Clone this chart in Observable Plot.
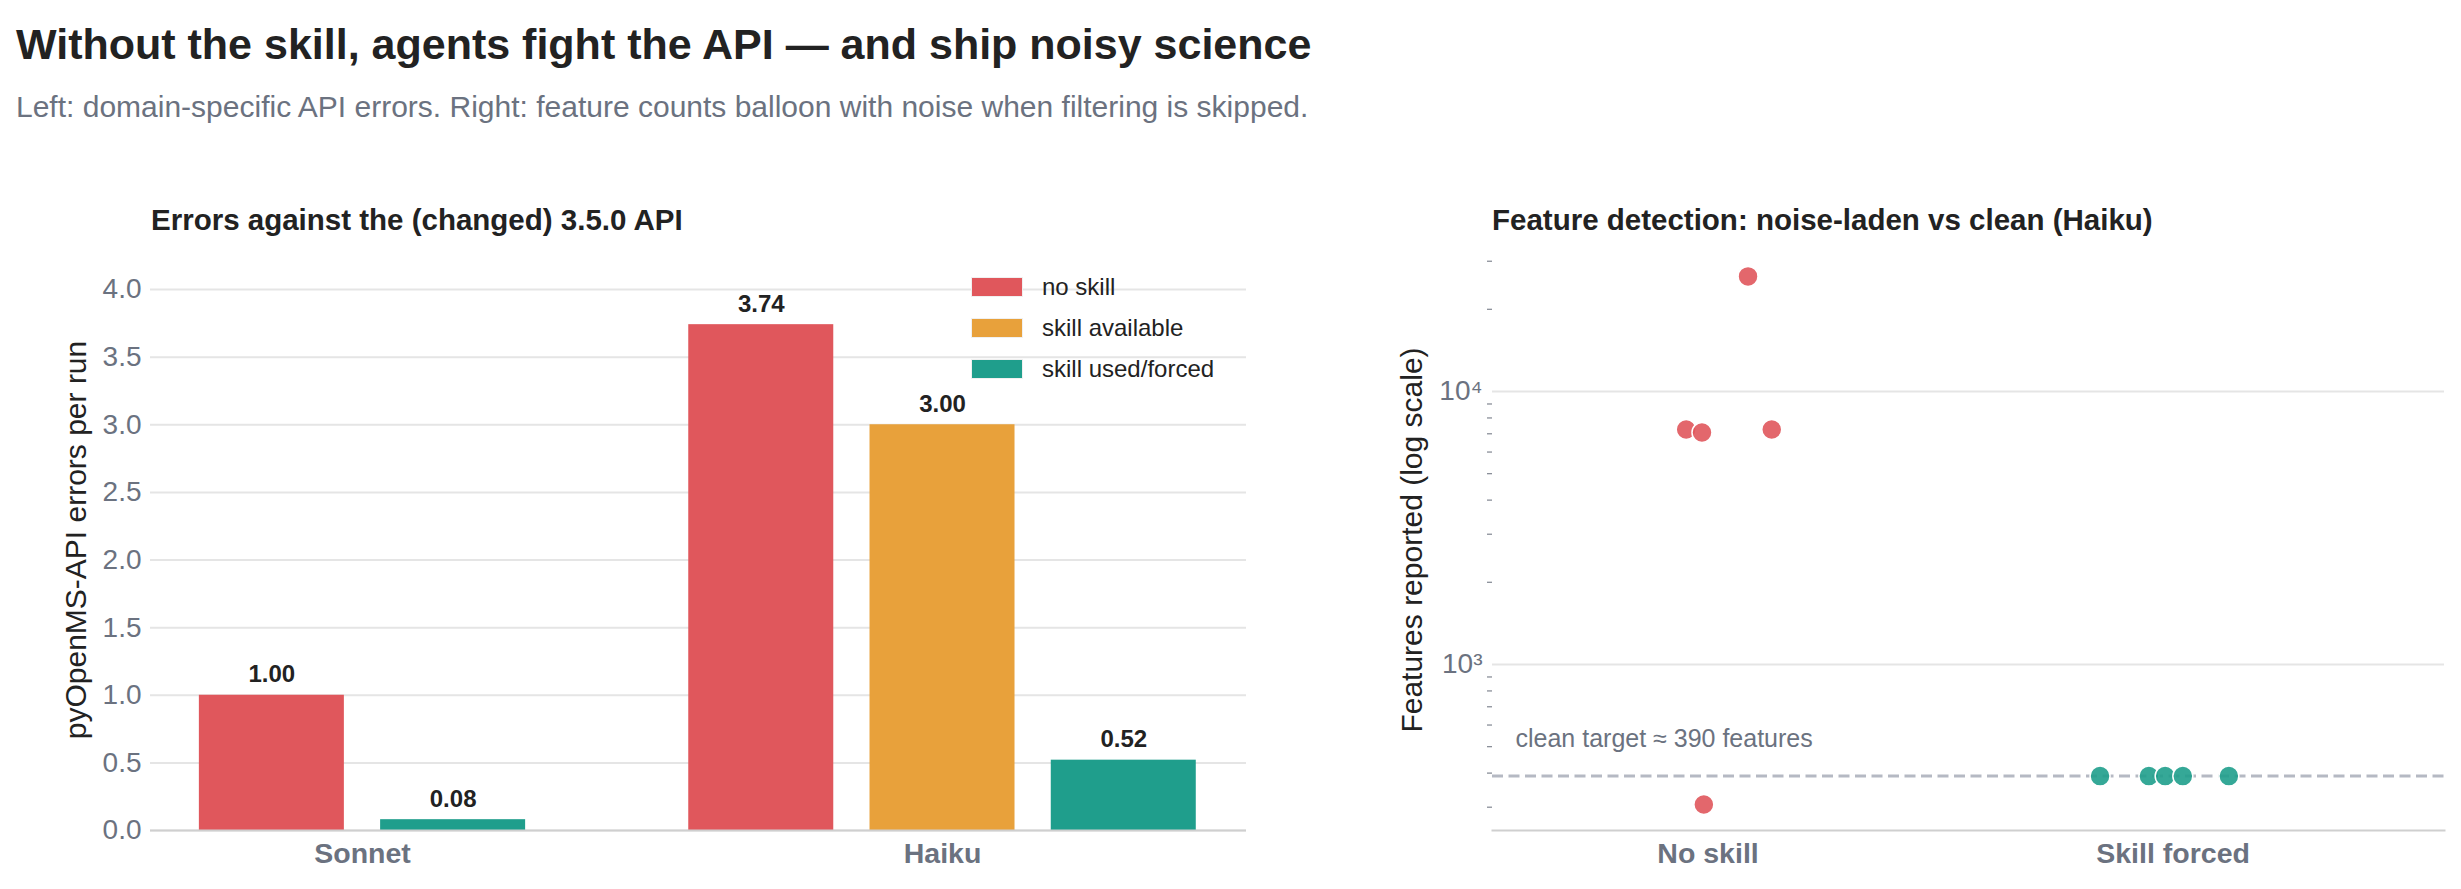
<!DOCTYPE html>
<html>
<head>
<meta charset="utf-8">
<script src="https://cdn.jsdelivr.net/npm/d3@7"></script>
<script src="https://cdn.jsdelivr.net/npm/@observablehq/plot@0.6"></script>
<style>
  html, body { margin: 0; padding: 0; background: #fff; }
  body { font-family: "Liberation Sans", Arial, Helvetica, sans-serif; }
  #page { position: relative; width: 2461px; height: 889px; overflow: hidden; }
  .abs { position: absolute; white-space: nowrap; }
  #title { left: 16px; top: 21px; font-size: 43px; line-height: 46px; font-weight: bold; color: #222; }
  #subtitle { left: 16px; top: 91px; font-size: 30px; line-height: 32px; color: #6b7280; }
  .ptitle { font-size: 29.5px; line-height: 32px; font-weight: bold; color: #222; top: 204px; }
  .ylab { font-size: 30px; color: #222; transform: translate(-50%, -50%) rotate(-90deg); line-height: 32px; }
  .leg { left: 971px; display: flex; align-items: center; font-size: 24px; color: #222; height: 20px; z-index: 5; }
  .sw { width: 50px; height: 18px; border: 1px solid #f0f0f0; margin-right: 19px; }
  .plot { position: absolute; top: 250px; }
</style>
</head>
<body>
<div id="page">
  <div id="title" class="abs">Without the skill, agents fight the API — and ship noisy science</div>
  <div id="subtitle" class="abs">Left: domain-specific API errors. Right: feature counts balloon with noise when filtering is skipped.</div>
  <div class="abs ptitle" style="left:151px">Errors against the (changed) 3.5.0 API</div>
  <div class="abs ptitle" style="left:1492px">Feature detection: noise-laden vs clean (Haiku)</div>
  <div class="abs ylab" style="left:76px; top:540px">pyOpenMS-API errors per run</div>
  <div class="abs ylab" style="left:1412px; top:540px">Features reported (log scale)</div>
  <div id="left" class="plot" style="left:0px"></div>
  <div id="right" class="plot" style="left:1340px"></div>
  <div id="legend"></div>
</div>
<script>
// ---------------- Data ----------------
const groups = ["Sonnet", "Haiku"];
const conditions = ["no skill", "skill available", "skill used/forced"];
const conditionColors = ["#e0575c", "#e8a13b", "#1f9e8c"];

const barGroup = ["Sonnet", "Sonnet", "Haiku", "Haiku", "Haiku"];
const barCondition = ["no skill", "skill used/forced", "no skill", "skill available", "skill used/forced"];
const barValue = [1.00, 0.08, 3.74, 3.00, 0.52];

const yTicksLeft = [0, 0.5, 1.0, 1.5, 2.0, 2.5, 3.0, 3.5, 4.0];

const featureCategories = ["No skill", "Skill forced"];
const noSkillCounts = [26400, 7260, 7080, 7260, 307];
const noSkillJitter = [0.086, -0.047, -0.013, 0.137, -0.009];
const skillForcedCounts = [390, 390, 390, 390, 390];
const skillForcedJitter = [-0.157, -0.052, -0.017, 0.021, 0.120];
const cleanTarget = 390;
const majorLogTicks = [1000, 10000];
const minorLogTicks = [300, 400, 500, 600, 700, 800, 900, 2000, 3000, 4000, 5000, 6000, 7000, 8000, 9000, 20000, 30000];
const supDigits = {"0":"⁰","1":"¹","2":"²","3":"³","4":"⁴","5":"⁵","6":"⁶","7":"⁷","8":"⁸","9":"⁹"};

const FONT = '"Liberation Sans", Arial, Helvetica, sans-serif';
const GRID = "#e5e5e5";
const AXIS_TEXT = "#6b7280";

// ---------------- Left: grouped bars ----------------
const BAR_W = 0.25, BAR_STEP = 0.3125;
const bars = barGroup.map((g, i) => ({group: g, condition: barCondition[i], value: barValue[i]}));
for (const g of groups) {
  const inG = bars.filter(b => b.group === g);
  inG.forEach((b, j) => {
    const c = groups.indexOf(g) + (j - (inG.length - 1) / 2) * BAR_STEP;
    b.cx = c; b.x1 = c - BAR_W / 2; b.x2 = c + BAR_W / 2;
  });
}

const left = Plot.plot({
  width: 1260, height: 630,
  marginLeft: 150, marginRight: 14, marginTop: 39, marginBottom: 50,
  style: {fontFamily: FONT, background: "transparent", overflow: "visible"},
  x: {type: "linear", domain: [-0.3655, 1.5241], axis: null},
  y: {domain: [0, 4], axis: null},
  color: {domain: conditions, range: conditionColors},
  marks: [
    Plot.gridY(yTicksLeft, {stroke: GRID, strokeOpacity: 1, strokeWidth: 2}),
    Plot.axisY({ticks: yTicksLeft, tickSize: 0, tickPadding: 9, tickFormat: d3.format(".1f"),
      fontSize: 28, fill: AXIS_TEXT, label: null}),
    Plot.rect(bars, {x1: "x1", x2: "x2", y1: 0, y2: "value", fill: "condition"}),
    Plot.ruleY([0], {stroke: "#cfcfcf", strokeWidth: 2}),
    Plot.text(bars, {x: "cx", y: "value", text: d => d.value.toFixed(2), dy: -13, lineAnchor: "bottom",
      fontWeight: "bold", fontSize: 24, fill: "#222"}),
    Plot.axisX({ticks: [0, 1], tickFormat: i => groups[i], tickSize: 0, tickPadding: 12,
      fontSize: 28.5, fontWeight: "bold", fill: AXIS_TEXT, label: null})
  ]
});
document.getElementById("left").append(left);

// legend
const legend = document.getElementById("legend");
conditions.forEach((c, i) => {
  const row = document.createElement("div");
  row.className = "abs leg";
  row.style.top = (277 + i * 41) + "px";
  row.innerHTML = `<div class="sw" style="background:${conditionColors[i]}"></div><span>${c}</span>`;
  legend.append(row);
});

// ---------------- Right: log-scale dot strip ----------------
const features = [
  ...noSkillCounts.map((v, i) => ({cat: 0, count: v, jitter: noSkillJitter[i], color: conditionColors[0]})),
  ...skillForcedCounts.map((v, i) => ({cat: 1, count: v, jitter: skillForcedJitter[i], color: conditionColors[2]}))
];

const sup = n => String(Math.round(Math.log10(n))).split("").map(d => supDigits[d]).join("");

const right = Plot.plot({
  width: 1121, height: 630,
  marginLeft: 152, marginRight: 17, marginTop: 4.5, marginBottom: 50,
  style: {fontFamily: FONT, background: "transparent", overflow: "visible"},
  x: {type: "linear", domain: [-0.4635, 1.5837], axis: null},
  y: {type: "log", domain: [246.5, 31623], axis: null},
  marks: [
    Plot.gridY(majorLogTicks, {stroke: GRID, strokeOpacity: 1, strokeWidth: 2}),
    Plot.axisY({ticks: minorLogTicks, tickSize: 5, tickFormat: () => "", stroke: "#8a8f99", strokeWidth: 1.3, label: null}),
    Plot.axisY({ticks: majorLogTicks, tickSize: 0, tickPadding: 10, tickFormat: d => "10" + sup(d),
      fontSize: 28, fill: AXIS_TEXT, label: null}),
    Plot.frame({anchor: "bottom", stroke: "#cfcfcf", strokeWidth: 2}),
    Plot.ruleY([cleanTarget], {stroke: "#b5b9c3", strokeWidth: 3, strokeDasharray: "11,5.5"}),
    Plot.text([cleanTarget], {y: d => d, text: d => `clean target ≈ ${d} features`, frameAnchor: "left",
      dx: 23, dy: -37, textAnchor: "start", fontSize: 25, fill: AXIS_TEXT}),
    Plot.dot(features, {x: d => d.cat + d.jitter, y: "count", r: 10, fill: d => d.color,
      fillOpacity: 0.9, stroke: "white", strokeWidth: 1.5}),
    Plot.axisX({ticks: [0, 1], tickFormat: i => featureCategories[i], tickSize: 0, tickPadding: 12,
      fontSize: 28.5, fontWeight: "bold", fill: AXIS_TEXT, label: null})
  ]
});
document.getElementById("right").append(right);
</script>
</body>
</html>
